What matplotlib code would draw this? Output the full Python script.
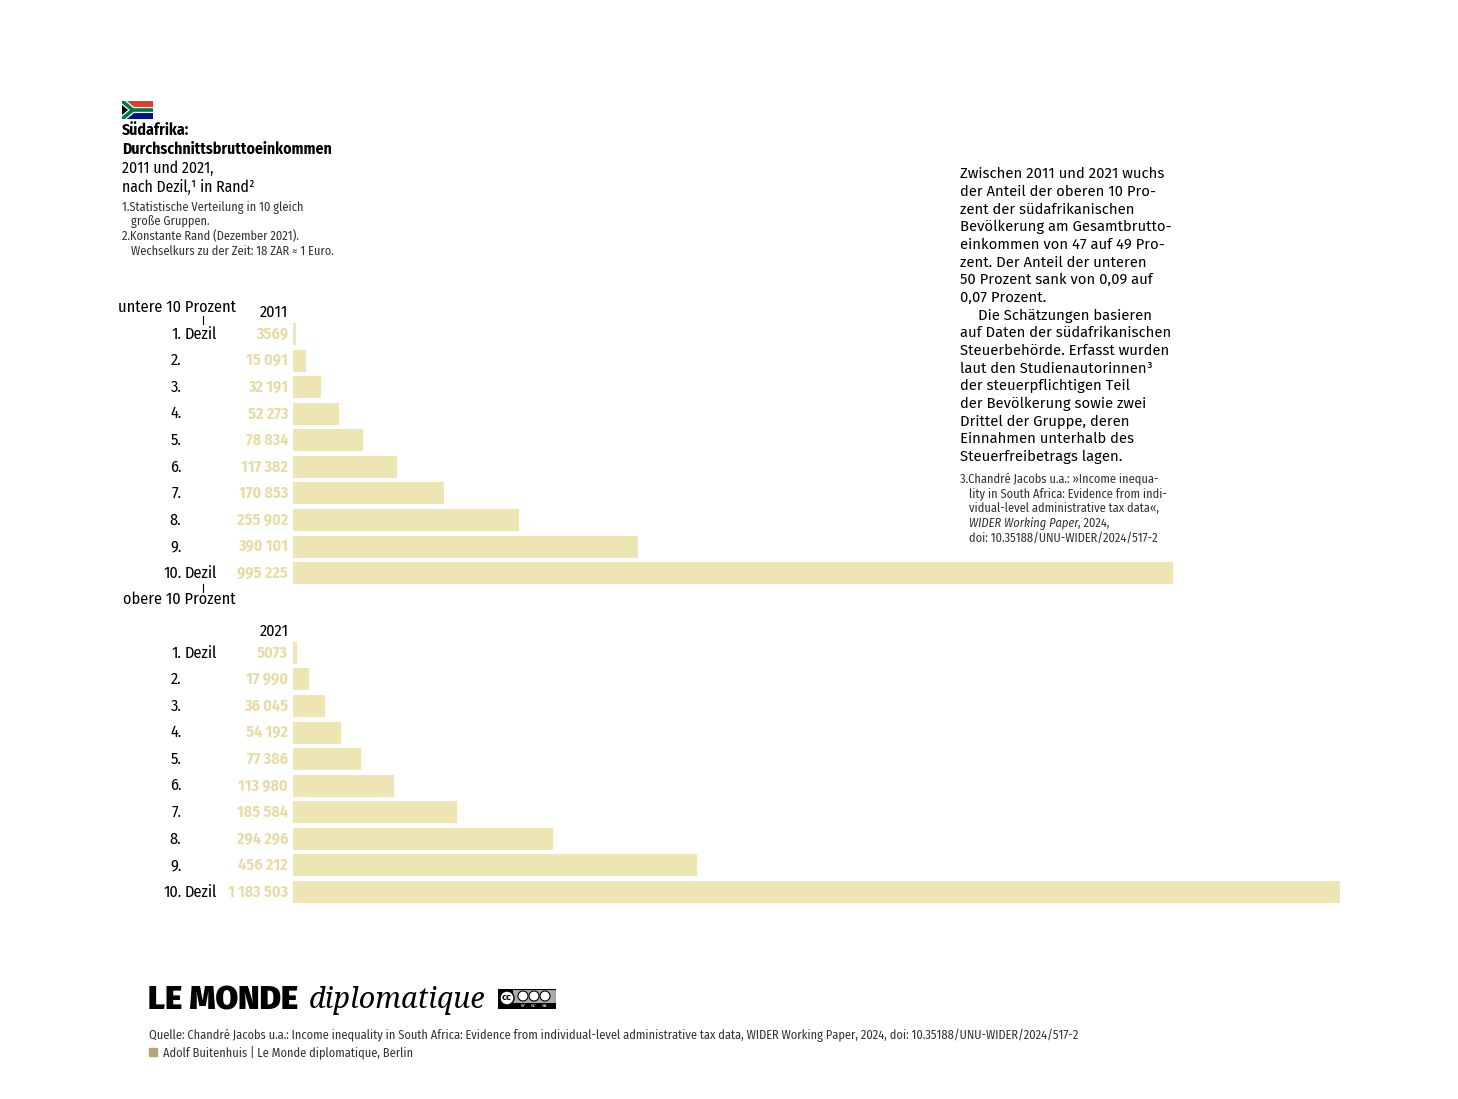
import matplotlib
matplotlib.use('Agg')
import matplotlib.pyplot as plt
from matplotlib import transforms
from matplotlib.patches import Polygon, Rectangle, Circle

# data: average gross income per decile, in Rand
deciles = ['1.', '2.', '3.', '4.', '5.', '6.', '7.', '8.', '9.', '10.']
income_2011 = [3569, 15091, 32191, 52273, 78834, 117382, 170853, 255902, 390101, 995225]
income_2021 = [5073, 17990, 36045, 54192, 77386, 113980, 185584, 294296, 456212, 1183503]
years = ['2011', '2021']

plt.rcParams['font.family'] = ['Fira Sans Condensed', 'DejaVu Sans']

W, H = 1458, 1099
BAR = '#eee5b5'
LABEL = '#e6dca6'
GREY = '#333333'
SMALL = 8.9
LAB = 11.7


def fx(x):
    return x / W


def fy(y):
    return 1 - y / H


def fmt(v):
    if v < 10000:
        return str(v)
    return '{:,}'.format(v).replace(',', '\u2009')


fig = plt.figure(figsize=(W / 100, H / 100), dpi=100)

# bars: one axes, 2011 in rows 0-9, 2021 in rows 12-21
ax = fig.add_axes([fx(293), fy(905.3), fx(1340) - fx(293), (905.3 - 320.7) / H])
rows_2011 = list(range(len(deciles)))
rows_2021 = [r + 12 for r in rows_2011]
ax.barh(rows_2011, income_2011, height=0.83, color=BAR, linewidth=0)
ax.barh(rows_2021, income_2021, height=0.83, color=BAR, linewidth=0)
ax.set_xlim(0, max(income_2021))
ax.set_ylim(21.5, -0.5)
ax.axis('off')

lab_tr = transforms.blended_transform_factory(fig.transFigure, ax.transData)
for rows, vals in ((rows_2011, income_2011), (rows_2021, income_2021)):
    for i, (r, v) in enumerate(zip(rows, vals)):
        ax.annotate(fmt(v), xy=(0, r), xytext=(-3.6, 0), textcoords='offset points',
                    ha='right', va='center', fontsize=11.5, fontweight='bold', color=LABEL)
        ax.text(fx(181.5), r, deciles[i], transform=lab_tr, ha='right', va='center',
                fontsize=LAB, color='black')
        if i in (0, len(deciles) - 1):
            ax.text(fx(184.5), r, 'Dezil', transform=lab_tr, ha='left', va='center',
                    fontsize=LAB, color='black')

for y, yr in zip((312, 631), years):
    fig.text(fx(288.5), fy(y), yr, ha='right', va='center', fontsize=LAB)

fig.text(fx(176.5), fy(307), 'untere 10 Prozent', ha='center', va='center', fontsize=LAB)
fig.text(fx(179), fy(599), 'obere 10 Prozent', ha='center', va='center', fontsize=LAB)
fig.add_artist(plt.Line2D([fx(203), fx(203)], [fy(316), fy(324)], color='black', lw=0.8))
fig.add_artist(plt.Line2D([fx(203), fx(203)], [fy(584), fy(592)], color='black', lw=0.8))

# flag
fa = fig.add_axes([fx(122), fy(119), fx(153) - fx(122), 18 / H])
fa.set_xlim(0, 3)
fa.set_ylim(0, 2)
fa.axis('off')
fa.add_patch(Rectangle((0, 1), 3, 1, color='#e03c31'))
fa.add_patch(Rectangle((0, 0), 3, 1, color='#001489'))
fa.plot([0, 1.05, 3], [2, 1, 1], color='white', lw=4.4, solid_joinstyle='miter', solid_capstyle='butt')
fa.plot([0, 1.05], [0, 1], color='white', lw=4.4, solid_capstyle='butt')
fa.plot([0, 1.05, 3], [2, 1, 1], color='#007749', lw=2.6, solid_joinstyle='miter', solid_capstyle='butt')
fa.plot([0, 1.05], [0, 1], color='#007749', lw=2.6, solid_capstyle='butt')
fa.add_patch(Polygon([(0, 0.3), (0.8, 1), (0, 1.7)], color='#ffb81c'))
fa.add_patch(Polygon([(0, 0.5), (0.58, 1), (0, 1.5)], color='black'))

# title block
fig.text(fx(122), fy(130), 'Südafrika:', fontsize=11.3, fontweight='bold', va='center')
fig.text(fx(122), fy(149), 'Durchschnittsbruttoeinkommen', fontsize=11.3, fontweight='bold', va='center')
fig.text(fx(122), fy(168), '2011 und 2021,', fontsize=11.3, va='center')
fig.text(fx(122), fy(187), 'nach Dezil,¹ in Rand²', fontsize=11.3, va='center')
notes = [(122, 207, '1.Statistische Verteilung in 10 gleich'),
         (131, 221, 'große Gruppen.'),
         (122, 236, '2.Konstante Rand (Dezember 2021).'),
         (131, 251, 'Wechselkurs zu der Zeit: 18 ZAR ≈ 1 Euro.')]
for x, y, s in notes:
    fig.text(fx(x), fy(y), s, fontsize=SMALL, color=GREY, va='center')

# right text
body = ['Zwischen 2011 und 2021 wuchs',
        'der Anteil der oberen 10 Pro-',
        'zent der südafrikanischen',
        'Bevölkerung am Gesamtbrutto-',
        'einkommen von 47 auf 49 Pro-',
        'zent. Der Anteil der unteren',
        '50 Prozent sank von 0,09 auf',
        '0,07 Prozent.',
        'Die Schätzungen basieren',
        'auf Daten der südafrikanischen',
        'Steuerbehörde. Erfasst wurden',
        'laut den Studienautorinnen³',
        'der steuerpflichtigen Teil',
        'der Bevölkerung sowie zwei',
        'Drittel der Gruppe, deren',
        'Einnahmen unterhalb des',
        'Steuerfreibetrags lagen.']
for i, s in enumerate(body):
    x = 978 if i == 8 else 960
    fig.text(fx(x), fy(174 + i * 17.69), s, fontsize=10.7, va='center',
             family=['Fira Sans', 'DejaVu Sans'])

fig.text(fx(960), fy(479), '3.Chandré Jacobs u.a.: »Income inequa-', fontsize=SMALL, color=GREY, va='center')
fig.text(fx(969), fy(494), 'lity in South Africa: Evidence from indi-', fontsize=SMALL, color=GREY, va='center')
fig.text(fx(969), fy(508), 'vidual-level administrative tax data«,', fontsize=SMALL, color=GREY, va='center')
t = fig.text(fx(969), fy(523), 'WIDER Working Paper', fontsize=SMALL, color=GREY, va='center', style='italic')
bb = t.get_window_extent(renderer=fig.canvas.get_renderer())
fig.text(bb.x1 / W, fy(523), ', 2024,', fontsize=SMALL, color=GREY, va='center')
fig.text(fx(969), fy(538), 'doi: 10.35188/UNU-WIDER/2024/517-2', fontsize=SMALL, color=GREY, va='center')

# footer
fig.text(fx(148), fy(1009), 'LE MONDE', fontsize=23.7, fontweight=900, va='baseline',
         family=['Fira Sans', 'DejaVu Sans'])
fig.text(fx(309), fy(1008), 'diplomatique', fontsize=20.7, style='italic', va='baseline',
         family=['Noto Serif', 'DejaVu Serif'])

cc = fig.add_axes([fx(498), fy(1009), fx(556) - fx(498), 20 / H])
cc.set_xlim(0, 58)
cc.set_ylim(0, 20)
cc.axis('off')
cc.add_patch(Rectangle((0, 0), 58, 20, facecolor='#aaaaaa', edgecolor='black', lw=0.8))
cc.add_patch(Rectangle((0, 0), 58, 6, facecolor='black', lw=0))
cc.add_patch(Rectangle((0, 0), 15, 20, facecolor='black', lw=0))
cc.add_patch(Circle((9, 11), 7, facecolor='white', edgecolor='black', lw=1))
cc.text(9, 11, 'cc', ha='center', va='center', fontsize=6, fontweight='bold', family='DejaVu Sans')
for cx, lab in zip((25, 36, 47), ('BY', 'NC', 'SA')):
    cc.add_patch(Circle((cx, 13), 5, facecolor='white', edgecolor='black', lw=0.8))
    cc.text(cx, 3, lab, ha='center', va='center', fontsize=3, color='white', family='DejaVu Sans')

fig.text(fx(149), fy(1035), 'Quelle: Chandré Jacobs u.a.: Income inequality in South Africa: Evidence from '
         'individual-level administrative tax data, WIDER Working Paper, 2024, doi: 10.35188/UNU-WIDER/2024/517-2',
         fontsize=SMALL, color=GREY, va='center')
fig.add_artist(Rectangle((fx(149), fy(1056)), 8 / W, 8 / H, color='#b5a47c', transform=fig.transFigure))
fig.text(fx(163), fy(1052), 'Adolf Buitenhuis | Le Monde diplomatique, Berlin', fontsize=SMALL, color=GREY, va='center')

fig.savefig('out.png', dpi=100, facecolor='white')
